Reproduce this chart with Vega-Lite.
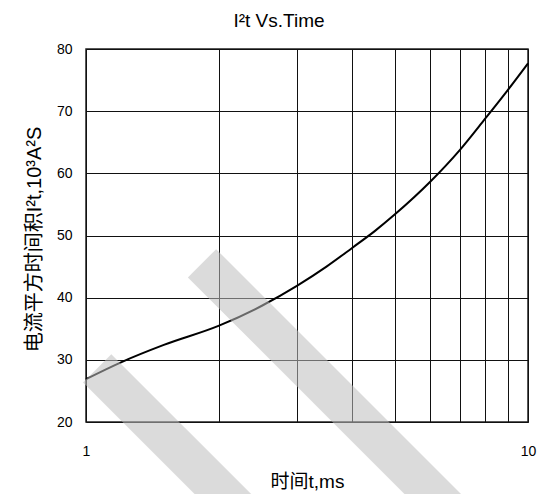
{
  "$schema": "https://vega.github.io/schema/vega-lite/v6.json",
  "width": 442,
  "height": 373,
  "autosize": {"type": "none"},
  "padding": {"left": 86, "top": 49, "right": 18, "bottom": 72},
  "background": "white",
  "config": {
    "font": "Liberation Sans",
    "view": {"stroke": "#222222", "strokeWidth": 1.5},
    "axis": {"domain": false, "ticks": false, "gridColor": "#111111", "gridOpacity": 1, "gridWidth": 1, "labelColor": "#000000", "labelFontSize": 14, "titleColor": "#000000", "titleFontWeight": "normal"}
  },
  "title": {"text": "I²t  Vs.Time", "fontSize": 19, "fontWeight": "normal", "font": "Liberation Sans", "color": "#000000", "offset": 11, "dx": -28},
  "datasets": {
    "curve": [
      {"t": 1, "i2t": 26.9},
      {"t": 1.2, "i2t": 29.6},
      {"t": 1.5, "i2t": 32.4},
      {"t": 2, "i2t": 35.5},
      {"t": 2.5, "i2t": 38.7},
      {"t": 3, "i2t": 41.9},
      {"t": 3.5, "i2t": 45.0},
      {"t": 4, "i2t": 48.0},
      {"t": 4.5, "i2t": 50.7},
      {"t": 5, "i2t": 53.4},
      {"t": 6, "i2t": 58.6},
      {"t": 7, "i2t": 63.7},
      {"t": 8, "i2t": 68.8},
      {"t": 9, "i2t": 73.4},
      {"t": 10, "i2t": 77.7}
    ],
    "watermark": [
      {"band": "a", "t": 1.06, "i2t": 28.64},
      {"band": "a", "t": 2.315, "i2t": 4.51},
      {"band": "b", "t": 1.83, "i2t": 45.53},
      {"band": "b", "t": 7.09, "i2t": 3.71}
    ]
  },
  "encoding": {
    "x": {
      "field": "t", "type": "quantitative",
      "scale": {"type": "log", "domain": [1, 10], "nice": false},
      "axis": {
        "values": [1, 2, 3, 4, 5, 6, 7, 8, 9, 10],
        "labelExpr": "(datum.value == 1 || datum.value == 10) ? format(datum.value, 'd') : ''",
        "labelPadding": 22,
        "labelFlush": false,
        "title": "时间t,ms",
        "titleFont": "Liberation Sans, Noto Sans CJK SC",
        "titleFontSize": 19,
        "titleBaseline": "middle",
        "titleY": 59
      }
    },
    "y": {
      "field": "i2t", "type": "quantitative",
      "scale": {"domain": [20, 80], "nice": false},
      "axis": {
        "values": [20, 30, 40, 50, 60, 70, 80],
        "labelPadding": 14,
        "title": "电流平方时间积I²t,10³A²S",
        "titleFont": "Liberation Sans, Noto Sans CJK SC",
        "titleFontSize": 20,
        "titleAngle": 270,
        "titleAlign": "center",
        "titleBaseline": "middle",
        "titleX": -52,
        "titleY": 190
      }
    }
  },
  "layer": [
    {
      "data": {"name": "curve"},
      "mark": {"type": "line", "color": "#000000", "strokeWidth": 2, "interpolate": "monotone"}
    },
    {
      "data": {"name": "watermark"},
      "mark": {"type": "line", "color": "#bdbdbd", "opacity": 0.55, "strokeWidth": 40, "strokeCap": "butt", "clip": false},
      "encoding": {"detail": {"field": "band", "type": "nominal"}}
    }
  ]
}
